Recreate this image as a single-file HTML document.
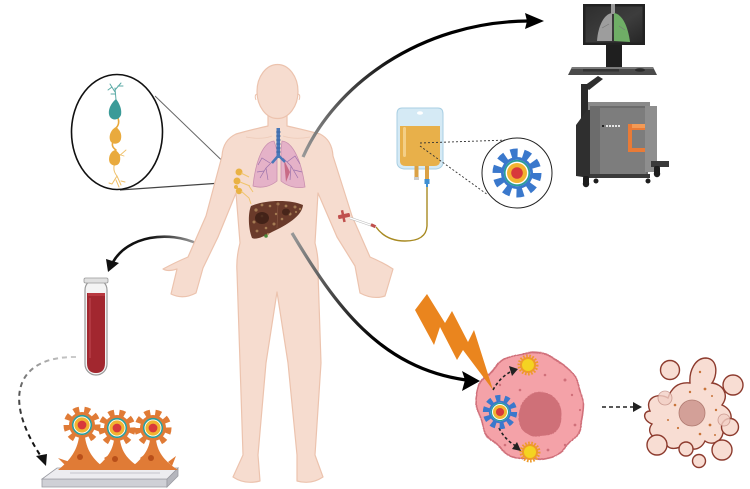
<!DOCTYPE html>
<html><head><meta charset="utf-8"><style>
html,body{margin:0;padding:0;background:#fff;}
svg{display:block;}
</style></head><body>
<svg width="750" height="489" viewBox="0 0 750 489" xmlns="http://www.w3.org/2000/svg">
<defs>
  <linearGradient id="gTop" gradientUnits="userSpaceOnUse" x1="303" y1="157" x2="400" y2="45">
    <stop offset="0" stop-color="#999"/><stop offset="1" stop-color="#000"/>
  </linearGradient>
  <linearGradient id="gBot" gradientUnits="userSpaceOnUse" x1="292" y1="233" x2="380" y2="340">
    <stop offset="0" stop-color="#999"/><stop offset="1" stop-color="#000"/>
  </linearGradient>
  <linearGradient id="gLeft" gradientUnits="userSpaceOnUse" x1="200" y1="244" x2="150" y2="236">
    <stop offset="0" stop-color="#aaa"/><stop offset="1" stop-color="#111"/>
  </linearGradient>
  <linearGradient id="gDash" gradientUnits="userSpaceOnUse" x1="75" y1="357" x2="30" y2="440">
    <stop offset="0" stop-color="#ccc"/><stop offset="1" stop-color="#111"/>
  </linearGradient>
  <linearGradient id="scr" x1="0" y1="0" x2="1" y2="1">
    <stop offset="0" stop-color="#2e2e2e"/><stop offset="0.55" stop-color="#3d3d3d"/><stop offset="1" stop-color="#262626"/>
  </linearGradient>
  <filter id="wob" x="-20%" y="-20%" width="140%" height="140%">
    <feTurbulence type="fractalNoise" baseFrequency="0.045" numOctaves="1" seed="4"/>
    <feDisplacementMap in="SourceGraphic" scale="10" xChannelSelector="R" yChannelSelector="G"/>
  </filter>
  <filter id="wob2" x="-20%" y="-20%" width="140%" height="140%">
    <feTurbulence type="fractalNoise" baseFrequency="0.05" numOctaves="1" seed="9"/>
    <feDisplacementMap in="SourceGraphic" scale="7" xChannelSelector="R" yChannelSelector="G"/>
  </filter>
  <g id="np">
    <circle r="20" fill="none" stroke="#3a78cc" stroke-width="9" stroke-dasharray="6.8 5.76"/>
    <circle r="16" fill="#3a78cc"/>
    <circle r="13.2" fill="#fff"/>
    <circle r="12.3" fill="none" stroke="#2a9d9a" stroke-width="1.8"/>
    <circle r="10" fill="#f2b431"/>
    <circle r="5.8" fill="#d8393b"/>
  </g>
  <g id="og">
    <circle r="15" fill="none" stroke="#e07b36" stroke-width="7" stroke-dasharray="5.5 4.9"/>
    <circle r="13" fill="#e07b36"/>
    <circle r="10" fill="#fff"/>
    <circle r="9.3" fill="none" stroke="#2a9d9a" stroke-width="1.6"/>
    <circle r="7.6" fill="#f2b431"/>
    <circle r="4.4" fill="#d8393b"/>
  </g>
  <g id="ys">
    <circle r="9" fill="none" stroke="#ee9a2a" stroke-width="3" stroke-dasharray="1.6 1.5"/>
    <circle r="8" fill="#ee9a2a"/>
    <circle r="6" fill="#f4d322"/>
  </g>
</defs>

<!-- neuron zoom circle -->
<line x1="155" y1="96" x2="238" y2="176" stroke="#666" stroke-width="1"/>
<line x1="120" y1="190" x2="236" y2="182" stroke="#444" stroke-width="1.2"/>
<ellipse cx="117" cy="132" rx="45.5" ry="57.5" fill="#fff" stroke="#111" stroke-width="1.6"/>
<g stroke-linecap="round" fill="none">
  <path d="M116,100 L115,88 M115,92 L110,84 M115,90 L121,83 M118,86 L123,86 M112,87 L108,90 M115,94 L111,94" stroke="#5aaaa6" stroke-width="1"/>
  <path d="M118,118 Q120,124 116,128" stroke="#e8a83c" stroke-width="1.6"/>
  <path d="M114,140 Q110,146 116,150" stroke="#e8a83c" stroke-width="1.6"/>
  <path d="M115,163 Q112,170 117,176 M117,176 L112,184 M117,176 L121,185 M116,180 L119,187 M112,184 L109,183 M121,181 L125,182" stroke="#efc06a" stroke-width="1"/>
  <path d="M118,157 L126,150 M118,154 L124,156" stroke="#efc06a" stroke-width="0.9"/>
</g>
<path d="M116,99 C110,104 107,112 110,117 C113,121 119,120 121,115 C122,110 120,104 116,99 Z" fill="#3b9b98"/>
<path d="M116,127 C110,130 108,138 111,142 C114,145 120,144 121,139 C122,134 120,130 116,127 Z" fill="#e9aa3d"/>
<path d="M115,150 C109,152 108,160 110,163 C113,167 119,166 120,161 C121,156 119,152 115,150 Z" fill="#e9aa3d"/>

<!-- arrows behind body -->
<path d="M198,244 C168,230 128,236 113,262" fill="none" stroke="url(#gLeft)" stroke-width="2.6"/>
<polygon points="108,272 106,259 119,263" fill="#111"/>

<!-- body -->
<path d="M268,113 L268,126 Q250,130 236,134 Q223,140 222,156 L206,216 L188,257 Q176,262 163,269 Q168,272 177,269 L171,294 Q183,300 196,293 L203,268 L218,237 L236,193 L240,243 Q236,258 237,272 L240,363 L243,455 L233,477 Q245,485 260,481 L258,455 L266,363 L277,292 L288,363 L297,455 L297,481 Q311,485 323,477 L315,455 L321,363 L318,272 Q319,258 315,243 L318,193 L337,237 L355,266 L360,293 Q373,300 385,296 L393,269 Q382,262 370,257 L352,216 L333,156 Q332,140 320,134 Q305,130 287,126 L287,113 Z" fill="#f6dccf" stroke="#ecc3ae" stroke-width="1.2" stroke-linejoin="round"/>
<ellipse cx="277.5" cy="91.5" rx="20.5" ry="27" fill="#f6dccf" stroke="#ecc3ae" stroke-width="1.2"/>
<path d="M257,94 Q254,95 256,100 M298,94 Q301,95 299,100" stroke="#ecc3ae" fill="none"/>
<path d="M246,137 Q262,140 272,136 M283,136 Q295,140 310,137" stroke="#edcab8" fill="none" stroke-width="0.8"/>

<!-- lungs -->
<path d="M274,141 C264,142 256,158 253,186 C262,189 271,186 277,181 L277,150 Z" fill="#e5b2c8" stroke="#c98fae" stroke-width="0.8"/>
<path d="M282,141 C292,142 301,158 305,187 C296,189 287,186 281,181 L281,150 Z" fill="#e5b2c8" stroke="#c98fae" stroke-width="0.8"/>
<path d="M284,160 L286,182 L290,172" fill="#c86b86" stroke="none"/>
<g stroke="#9b72ab" stroke-width="0.7" fill="none">
  <path d="M274,160 L266,168 L260,178 M266,168 L268,180 M270,163 L262,158 L258,165 M264,171 L257,172"/>
  <path d="M283,158 L291,166 L298,178 M291,166 L290,180 M287,162 L295,156 L300,164 M294,170 L302,172"/>
</g>
<rect x="276.5" y="128" width="3.5" height="30" fill="#4a78b8"/>
<path d="M278,156 L272,163 M279,156 L285,162" stroke="#4a78b8" stroke-width="2.5"/>
<g stroke="#2f5a96" stroke-width="0.6"><line x1="276" y1="132" x2="281" y2="132"/><line x1="276" y1="136" x2="281" y2="136"/><line x1="276" y1="140" x2="281" y2="140"/><line x1="276" y1="144" x2="281" y2="144"/><line x1="276" y1="148" x2="281" y2="148"/><line x1="276" y1="152" x2="281" y2="152"/></g>

<!-- lymph nodes -->
<g fill="#e9b244">
  <circle cx="239" cy="172" r="3.5"/><circle cx="237" cy="181" r="3.5"/><circle cx="239" cy="191" r="3.2"/><circle cx="236" cy="187" r="2"/>
</g>
<path d="M241,173 L249,177 M240,182 L250,186 M241,191 L249,198 L251,204 M249,186 L253,192" stroke="#f0c46c" stroke-width="1" fill="none"/>

<!-- liver -->
<path d="M251,206 C264,200 290,199 303,205 C302,216 287,225 272,232 C263,237 256,240 252,238 C248,228 248,213 251,206 Z" fill="#6a3a2a"/>
<g fill="#b89060" opacity="0.75">
  <circle cx="256" cy="210" r="1.6"/><circle cx="262" cy="205" r="1.4"/><circle cx="270" cy="206" r="1.3"/><circle cx="278" cy="204" r="1.5"/><circle cx="286" cy="206" r="1.4"/><circle cx="295" cy="207" r="1.5"/><circle cx="300" cy="209" r="1.2"/><circle cx="254" cy="222" r="1.5"/><circle cx="257" cy="231" r="1.4"/><circle cx="266" cy="228" r="1.3"/><circle cx="274" cy="224" r="1.5"/><circle cx="282" cy="219" r="1.3"/><circle cx="290" cy="214" r="1.5"/><circle cx="276" cy="214" r="1.2"/><circle cx="262" cy="216" r="1.3"/><circle cx="296" cy="212" r="1.1"/><circle cx="268" cy="234" r="1.1"/>
</g>
<ellipse cx="262" cy="218" rx="7" ry="6" fill="#3a1d14" opacity="0.8"/>
<ellipse cx="286" cy="212" rx="4" ry="3.5" fill="#3a1d14" opacity="0.7"/>
<line x1="278" y1="203" x2="277" y2="228" stroke="#8b5a44" stroke-width="0.6"/>
<circle cx="266" cy="236" r="1.8" fill="#4a8a3a"/>

<!-- arrows over body -->
<path d="M303,157 C335,85 420,22 528,21" fill="none" stroke="url(#gTop)" stroke-width="3.2"/>
<polygon points="544,21 525,13 527,21 525,29" fill="#000"/>
<path d="M292,233 C335,305 380,368 466,380" fill="none" stroke="url(#gBot)" stroke-width="3.2"/>
<polygon points="480,381 462,371 465,380 462,391" fill="#000"/>

<!-- IV bag -->
<path d="M402,108 L438,108 Q443,108 443,114 L443,162 Q443,168 436,169 L404,169 Q397,168 397,162 L397,114 Q397,108 402,108 Z" fill="#d5eaf5" stroke="#a9cfe3" stroke-width="1"/>
<ellipse cx="420" cy="113" rx="3" ry="1.8" fill="#fff"/>
<path d="M400,126 L440,126 L440,161 Q440,166 434,166 L406,166 Q400,166 400,161 Z" fill="#e8b04a"/>
<rect x="403" y="127" width="3" height="30" rx="1.5" fill="#f4cf86"/>
<rect x="414.5" y="166" width="4" height="12" fill="#dba145"/>
<rect x="425" y="166" width="4" height="13" fill="#dba145"/>
<rect x="414" y="177" width="5" height="3" fill="#ccc"/>
<rect x="424.5" y="179" width="5" height="5" fill="#3f8fd2"/>
<rect x="426" y="184" width="2" height="3" fill="#3f8fd2"/>
<path d="M427,187 L427,226 Q426,241 405,241 Q386,241 376,227" fill="none" stroke="#a88a22" stroke-width="1.4"/>
<path d="M376,227 Q362,222 350,218" fill="none" stroke="#bbb" stroke-width="2.4"/>
<path d="M376,227 Q362,222 350,218" fill="none" stroke="#fff" stroke-width="1.2"/>
<rect x="371" y="224" width="5" height="3" fill="#c0504d" transform="rotate(25 373 225)"/>
<rect x="338" y="214" width="12" height="4" rx="1" fill="#c0504d" transform="rotate(-12 344 216)"/>
<rect x="342" y="210" width="2.5" height="12" fill="#c0504d" transform="rotate(-12 344 216)"/>
<line x1="420" y1="143" x2="508" y2="140" stroke="#333" stroke-width="0.9" stroke-dasharray="2 2"/>
<line x1="420" y1="146" x2="488" y2="195" stroke="#333" stroke-width="0.9" stroke-dasharray="2 2"/>
<circle cx="517" cy="173" r="35" fill="#fff" stroke="#222" stroke-width="1"/>
<use href="#np" x="517" y="173"/>

<!-- machine -->
<rect x="583" y="4" width="62" height="41" fill="#222"/>
<rect x="585.5" y="6.5" width="57" height="36" fill="url(#scr)"/>
<rect x="611" y="4" width="4" height="10" fill="#9a9a9a"/>
<path d="M612,13 C604,14 598,26 597,41 L612,41 Z" fill="#9d9d9d"/>
<path d="M614,13 C622,14 628,26 630,42 L614,41 Z" fill="#6fae66"/>
<path d="M602,28 L609,24 M619,26 L625,30" stroke="#777" stroke-width="0.6"/>
<rect x="606" y="45" width="16" height="22" fill="#1f1f1f"/>
<polygon points="572,67 653,67 657,75 568,75" fill="#4a4a4a"/>
<polygon points="572,67 653,67 654,69 571,69" fill="#7a7a7a"/>
<rect x="583" y="69" width="36" height="2.5" fill="#333"/>
<ellipse cx="640" cy="70" rx="5" ry="1.8" fill="#2a2a2a"/>
<polygon points="598,76 603,79 589,90 584,86" fill="#2e2e2e"/>
<rect x="581" y="84" width="7" height="58" fill="#2b2b2b"/>
<polygon points="576,125 590,106 590,178 576,176" fill="#2f2f2f"/>
<rect x="588" y="102" width="62" height="8" fill="#8a8a8a"/>
<rect x="590" y="106" width="58" height="72" fill="#6c6c6c"/>
<rect x="600" y="108" width="46" height="66" fill="#7d7d7d"/>
<rect x="645" y="106" width="12" height="66" fill="#8e8e8e"/>
<path d="M628,124 L645,124 L645,130 L632,130 L632,148 L645,148 L645,152 L628,152 Z" fill="#e97b37"/>
<rect x="632" y="124" width="13" height="4" fill="#f39a55"/>
<g fill="#e5e5e5"><rect x="602" y="125" width="2" height="2" fill="#222"/><rect x="606" y="125" width="2" height="2"/><rect x="609" y="125" width="2" height="2"/><rect x="612" y="125" width="2" height="2"/><rect x="615" y="125" width="2" height="2"/><rect x="618" y="125" width="2" height="2"/></g>
<rect x="651" y="161" width="18" height="6" fill="#3a3a3a"/>
<rect x="590" y="174" width="60" height="4" fill="#3a3a3a"/>
<g fill="#1d1d1d">
  <rect x="583" y="176" width="6" height="10" rx="2"/><rect x="654" y="166" width="6" height="10" rx="2"/>
  <circle cx="586" cy="184" r="3.2"/><circle cx="657" cy="174" r="3.2"/><circle cx="596" cy="181" r="2.5"/><circle cx="648" cy="181" r="2.5"/>
</g>

<!-- blood tube -->
<rect x="85" y="279" width="22" height="96" rx="11" ry="11" fill="#f4f4f4" stroke="#9a9a9a" stroke-width="1.2"/>
<rect x="84" y="278" width="24" height="5" rx="1.5" fill="#e0e0e0" stroke="#999" stroke-width="0.8"/>
<path d="M87,293 L105,293 L105,363 Q105,373 96,373 Q87,373 87,363 Z" fill="#a2272f"/>
<rect x="88" y="293" width="17" height="3" fill="#b8383f"/>
<rect x="89" y="298" width="2" height="60" fill="#b94048" opacity="0.7"/>

<!-- dashed from tube -->
<path d="M76,357 C22,356 -2,392 42,458" fill="none" stroke="url(#gDash)" stroke-width="2" stroke-dasharray="5 4"/>
<polygon points="46,466 36,456 47,454" fill="#111"/>

<!-- platform & cells -->
<polygon points="42,479 167,479 167,487 42,487" fill="#cfd0d6" stroke="#9a9ba2" stroke-width="0.8"/>
<polygon points="167,479 178,468 178,476 167,487" fill="#b5b6bd" stroke="#9a9ba2" stroke-width="0.8"/>
<polygon points="57,468 178,468 167,479 42,479" fill="#ececf0" stroke="#9a9ba2" stroke-width="0.8"/>
<rect x="70" y="472" width="90" height="2" fill="#d8d8de"/>
<g fill="#e07b36">
  <path d="M79,437 L85,437 C87,452 95,462 108,470 L58,470 C68,462 77,452 79,437 Z"/>
  <path d="M114,440 L120,440 C122,454 130,462 144,470 L93,470 C103,462 112,454 114,440 Z"/>
  <path d="M150,440 L156,440 C158,454 166,462 178,470 L128,470 C138,462 148,454 150,440 Z"/>
  <path d="M70,462 L58,458 L66,466 Z M104,458 L114,452 L108,462 Z M140,458 L148,452 L143,462 Z M168,462 L176,456 L172,466 Z"/>
</g>
<g fill="#b84f1a"><circle cx="80" cy="457" r="3"/><circle cx="115" cy="459" r="3"/><circle cx="151" cy="458" r="3"/></g>
<use href="#og" x="82" y="425"/>
<use href="#og" x="117" y="428"/>
<use href="#og" x="153" y="428"/>

<!-- tumour cell -->
<g filter="url(#wob)">
  <circle cx="531" cy="406" r="53" fill="#f4a2a8" stroke="#d06f7a" stroke-width="1.6"/>
</g>
<g filter="url(#wob2)">
  <circle cx="540" cy="415" r="22" fill="#cf6f78"/>
</g>
<g fill="#d0707a">
  <circle cx="545" cy="375" r="1.3"/><circle cx="565" cy="380" r="1.5"/><circle cx="572" cy="395" r="1.2"/><circle cx="520" cy="390" r="1.3"/><circle cx="575" cy="425" r="1.4"/><circle cx="565" cy="445" r="1.2"/><circle cx="505" cy="445" r="1.3"/><circle cx="548" cy="450" r="1.4"/><circle cx="500" cy="385" r="1.2"/><circle cx="580" cy="410" r="1.1"/>
</g>
<use href="#ys" x="528" y="365"/>
<use href="#ys" x="530" y="452"/>
<path d="M493,390 Q500,377 512,371" fill="none" stroke="#222" stroke-width="1.6" stroke-dasharray="3 2.5"/>
<polygon points="518,369 509,366 512,376" fill="#222"/>
<path d="M499,428 Q505,440 516,446" fill="none" stroke="#222" stroke-width="1.6" stroke-dasharray="3 2.5"/>
<polygon points="521,451 517,442 512,449" fill="#222"/>
<g transform="translate(500 412) scale(0.7)"><use href="#np"/></g>

<!-- lightning -->
<polygon points="427,294 445,323 452,311 468,342 474,330 493,390 463,350 457,360 440,327 434,345 415,310" fill="#ea851e"/>

<!-- dashed arrow to dead cell -->
<line x1="602" y1="407" x2="634" y2="407" stroke="#222" stroke-width="1.6" stroke-dasharray="4 3"/>
<polygon points="642,407 633,402 633,412" fill="#222"/>

<!-- dead cell -->
<g fill="#f8ddd3" stroke="#8d3b2e" stroke-width="1.4">
  <path d="M650,411 C644,398 658,392 668,398 C672,386 680,382 690,383 C689,371 695,358 706,358 C719,359 717,377 712,383 C722,384 730,394 722,405 C734,410 734,424 723,428 C725,440 713,447 705,441 C700,452 688,451 686,443 C678,451 665,450 666,441 C655,441 645,433 652,424 C642,420 643,411 650,411 Z"/>
  <circle cx="670" cy="370" r="9.5"/>
  <circle cx="733" cy="385" r="10"/>
  <circle cx="730" cy="427" r="8.5"/>
  <circle cx="657" cy="445" r="10"/>
  <circle cx="722" cy="450" r="10"/>
  <circle cx="699" cy="461" r="6.5"/>
  <circle cx="686" cy="449" r="7"/>
</g>
<circle cx="665" cy="398" r="7" fill="#f3d0c6" stroke="#c08a80" stroke-width="0.8" opacity="0.8"/>
<circle cx="724" cy="420" r="6" fill="#f3d0c6" stroke="#c08a80" stroke-width="0.8" opacity="0.8"/>
<circle cx="692" cy="413" r="13" fill="#d3a098" stroke="#b07a70" stroke-width="0.8"/>
<g fill="#c8743a">
  <circle cx="690" cy="392" r="1.2"/><circle cx="705" cy="389" r="1.4"/><circle cx="712" cy="396" r="1"/><circle cx="675" cy="405" r="1.3"/><circle cx="716" cy="410" r="1.2"/><circle cx="710" cy="425" r="1.4"/><circle cx="678" cy="428" r="1.1"/><circle cx="700" cy="434" r="1.3"/><circle cx="715" cy="435" r="1"/><circle cx="700" cy="372" r="1.2"/><circle cx="668" cy="420" r="1"/>
</g>
</svg>
</body></html>
